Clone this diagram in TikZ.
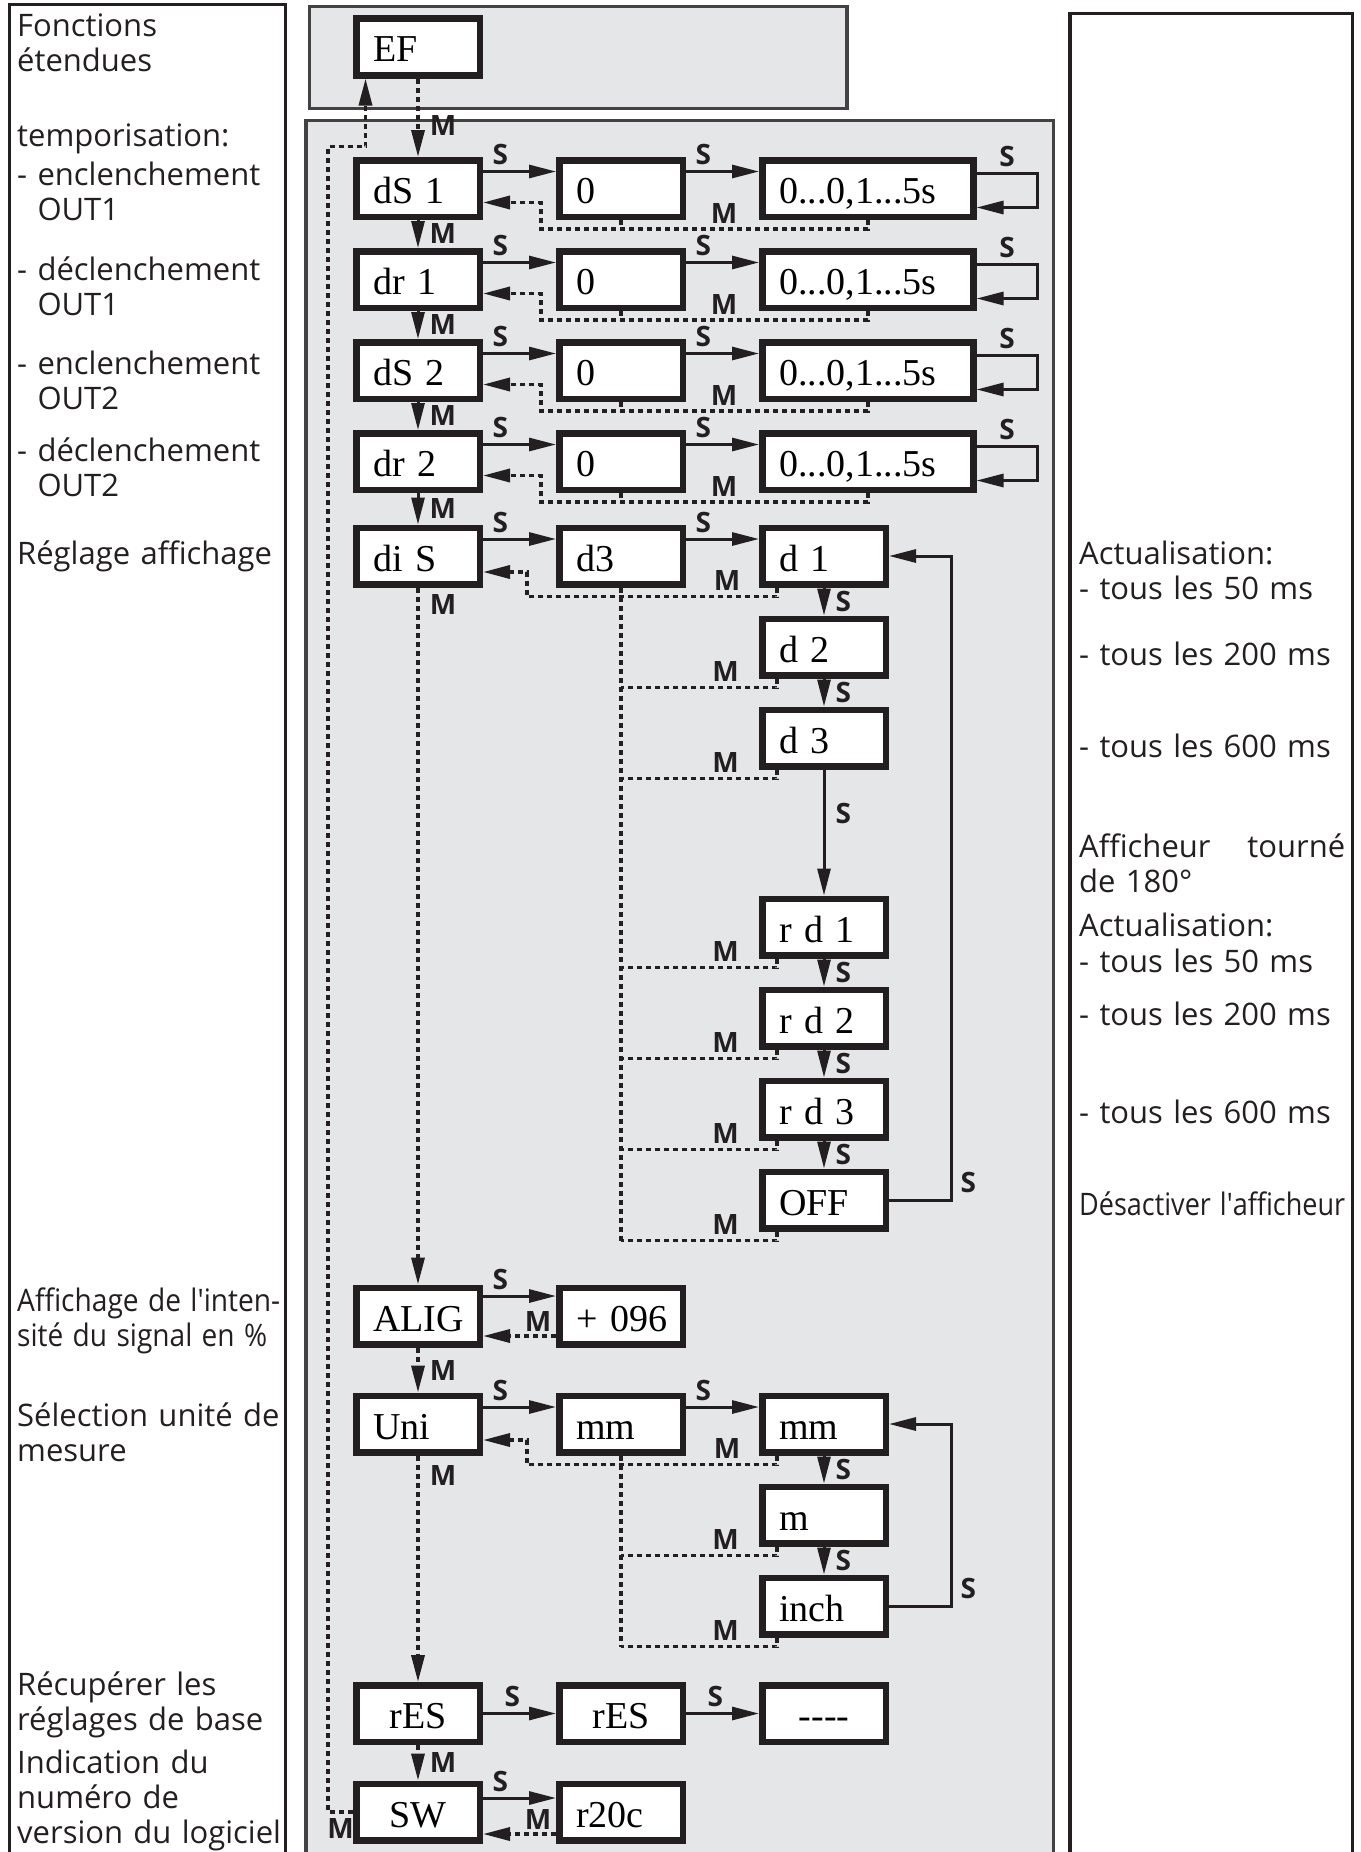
\documentclass[tikz,border=0pt]{standalone}
\usepackage{fontspec}
\setmainfont{Open Sans}
\newfontfamily\dispfamily{Liberation Serif}
\usepackage{graphicx}
\usepackage{xcolor}
\usetikzlibrary{arrows.meta,positioning}

\definecolor{panelgray}{RGB}{229,230,232}
\definecolor{ink}{RGB}{35,31,32}
\newcommand{\dispfont}{\dispfamily\fontsize{38}{40}\selectfont}
\newcommand{\notefont}{\fontsize{31}{35.3}\selectfont}
\newcommand{\lblfont}{\fontsize{28}{28}\selectfont\bfseries}

\begin{document}
\begin{tikzpicture}[
  x=1pt, y=1pt,
  node distance=28pt and 73pt,
  box/.style={draw=ink, line width=6.5pt, fill=white, minimum width=123.5pt, minimum height=56.5pt,
    text width=90pt, inner xsep=16.75pt, inner ysep=0pt, align=left,
    text height=30pt, text depth=0pt, font=\dispfont},
  wide/.style={box, minimum width=211pt, text width=177.5pt},
  cbox/.style={box, align=center},
  arrow/.style={draw=ink, line width=3pt, -{Triangle[length=27pt,width=13pt]}},
  mline/.style={draw=ink, line width=3.5pt, dash pattern=on 5pt off 4pt},
  marrow/.style={mline, -{Triangle[length=27pt,width=13pt]}},
  lbl/.style={font=\lblfont, text=ink, inner sep=0pt},
  slbl/.style={lbl, pos=0, anchor=south west, xshift=8pt, yshift=5pt},
  vlbl/.style={lbl, midway, right=10pt},
  mlbl/.style={lbl, above=4pt},
  note/.style={font=\notefont, text=ink, anchor=base west, align=left, text width=320pt, inner sep=0pt}
]
  \useasboundingbox (0,0) rectangle (1360,-1852);

  % panels
  \draw[ink, line width=3pt] (9,-1860) -- (9,-5) -- (285.5,-5) -- (285.5,-1860);
  \draw[ink, line width=3.3pt] (1070,-1860) -- (1070,-13.5) -- (1352.5,-13.5) -- (1352.5,-1860);
  \draw[ink!85, line width=3.5pt, fill=panelgray] (309.5,-6.5) rectangle (847,-108.3);
  \fill[panelgray] (306,-120.7) rectangle (1053.5,-1860);
  \draw[ink!85, line width=3.5pt] (306,-1860) -- (306,-120.7) -- (1053.5,-120.7) -- (1053.5,-1860);

  % left notes
  \node[note] (fe) at (17,-36.7) {Fonctions\\étendues};
  \node[note] (tp) at (17,-146.7) {temporisation:};
  \node[note] (on1) at (17,-185.5) {- enclenchement\\\phantom{- }OUT1};
  \node[note] (of1) at (17,-280) {- déclenchement\\\phantom{- }OUT1};
  \node[note] (on2) at (17,-374) {- enclenchement\\\phantom{- }OUT2};
  \node[note] (of2) at (17,-461.5) {- déclenchement\\\phantom{- }OUT2};
  \node[note] (ra) at (17,-564.5) {Réglage affichage};
  \node[note] (ai) at (17,-1311) {\resizebox{263pt}{\height}{Affichage de l\textquotesingle{}inten-}\\\resizebox{250pt}{\height}{sité du signal en \%}};
  \node[note] (su) at (17,-1426.5) {Sélection unité de\\mesure};
  \node[note] (rb) at (17,-1695) {Récupérer les\\réglages de base};
  \node[note] (iv) at (17,-1773) {Indication du\\numéro de\\version du logiciel};

  % right notes
  \node[note] (ac1) at (1079,-564) {Actualisation:\\- tous les 50 ms};
  \node[note] (t200a) at (1079,-665) {- tous les 200 ms};
  \node[note] (t600a) at (1079,-757.3) {- tous les 600 ms};
  \node[note] (at) at (1079,-857.3) {\makebox[266pt][l]{Afficheur\hfill tourné}\\de 180°};
  \node[note] (ac2) at (1079,-936.7) {Actualisation:\\- tous les 50 ms};
  \node[note] (t200b) at (1079,-1025) {- tous les 200 ms};
  \node[note] (t600b) at (1079,-1123.3) {- tous les 600 ms};
  \node[note] (da0) at (1079,-1215) {\resizebox{266pt}{\height}{Désactiver l\textquotesingle{}afficheur}};

  % menu boxes
  \node[box] (ef) at (418,-47) {EF};
  \node[box] (ds1) at (418,-188.5) {dS 1};
  \node[box, below=of ds1] (dr1) {dr 1};
  \node[box, below=of dr1] (ds2) {dS 2};
  \node[box, below=of ds2] (dr2) {dr 2};
  \node[box, below=31.5pt of dr2] (dis) {di S};
  \node[box] (alig) at (418,-1316) {ALIG};
  \node[box, below=45pt of alig] (uni) {Uni};
  \node[cbox] (res) at (418,-1713.5) {rES};
  \node[cbox, below=35.5pt of res] (sw) {SW};

  \node[box, right=of ds1] (nz1) {0};
  \node[wide, right=of nz1] (tim1) {0...0,1...5s};
  \node[box, right=of dr1] (nz2) {0};
  \node[wide, right=of nz2] (tim2) {0...0,1...5s};
  \node[box, right=of ds2] (nz3) {0};
  \node[wide, right=of nz3] (tim3) {0...0,1...5s};
  \node[box, right=of dr2] (nz4) {0};
  \node[wide, right=of nz4] (tim4) {0...0,1...5s};

  \node[box, right=of dis] (dd) {d3};
  \node[box, right=of dd] (da) {d 1};
  \node[box, below=of da] (db) {d 2};
  \node[box, below=of db] (dc) {d 3};
  \node[box, below=126pt of dc] (rda) {r d 1};
  \node[box, below=of rda] (rdb) {r d 2};
  \node[box, below=of rdb] (rdc) {r d 3};
  \node[box, below=of rdc] (off) {OFF};

  \node[box, right=of alig] (pct) {+~096};
  \node[box, right=of uni] (mma) {mm};
  \node[box, right=of mma] (mmb) {mm};
  \node[box, below=of mmb] (mu) {m};
  \node[box, below=of mu] (inch) {inch};
  \node[cbox, right=of res] (resb) {rES};
  \node[cbox, right=of resb] (blank) {-{}-{}-{}-};
  \node[box, right=of sw] (ver) {r20c};

  % entry and way back to EF
  \draw[marrow] (ef) -- (ds1) node[vlbl, pos=0.6] {M};
  \draw[marrow] (sw.west) -- ++(-25pt,0) node[lbl, midway, below=5pt] {M}
    |- ([xshift=12.5pt,yshift=-68pt]ef.south west) -- ([xshift=12.5pt]ef.south west);

  % delays
  \draw[arrow] ([yshift=17pt]ds1.east) -- ([yshift=17pt]nz1.west) node[slbl] {S};
  \draw[arrow] ([yshift=17pt]nz1.east) -- ([yshift=17pt]tim1.west) node[slbl] {S};
  \draw[arrow] ([yshift=15pt]tim1.east) -- ++(61pt,0) node[lbl, midway, above=5pt] {S} |- ([yshift=-19pt]tim1.east);
  \draw[mline] (nz1.south) -- ++(0,-9pt);
  \draw[marrow] (tim1.south) -- ++(0,-9pt) -| ([xshift=58pt,yshift=-14pt]ds1.east) node[mlbl, pos=0.22] {M} -- ([yshift=-14pt]ds1.east);
  \draw[arrow] (ds1) -- (dr1) node[vlbl] {M};

  \draw[arrow] ([yshift=17pt]dr1.east) -- ([yshift=17pt]nz2.west) node[slbl] {S};
  \draw[arrow] ([yshift=17pt]nz2.east) -- ([yshift=17pt]tim2.west) node[slbl] {S};
  \draw[arrow] ([yshift=15pt]tim2.east) -- ++(61pt,0) node[lbl, midway, above=5pt] {S} |- ([yshift=-19pt]tim2.east);
  \draw[mline] (nz2.south) -- ++(0,-9pt);
  \draw[marrow] (tim2.south) -- ++(0,-9pt) -| ([xshift=58pt,yshift=-14pt]dr1.east) node[mlbl, pos=0.22] {M} -- ([yshift=-14pt]dr1.east);
  \draw[arrow] (dr1) -- (ds2) node[vlbl] {M};

  \draw[arrow] ([yshift=17pt]ds2.east) -- ([yshift=17pt]nz3.west) node[slbl] {S};
  \draw[arrow] ([yshift=17pt]nz3.east) -- ([yshift=17pt]tim3.west) node[slbl] {S};
  \draw[arrow] ([yshift=15pt]tim3.east) -- ++(61pt,0) node[lbl, midway, above=5pt] {S} |- ([yshift=-19pt]tim3.east);
  \draw[mline] (nz3.south) -- ++(0,-9pt);
  \draw[marrow] (tim3.south) -- ++(0,-9pt) -| ([xshift=58pt,yshift=-14pt]ds2.east) node[mlbl, pos=0.22] {M} -- ([yshift=-14pt]ds2.east);
  \draw[arrow] (ds2) -- (dr2) node[vlbl] {M};

  \draw[arrow] ([yshift=17pt]dr2.east) -- ([yshift=17pt]nz4.west) node[slbl] {S};
  \draw[arrow] ([yshift=17pt]nz4.east) -- ([yshift=17pt]tim4.west) node[slbl] {S};
  \draw[arrow] ([yshift=15pt]tim4.east) -- ++(61pt,0) node[lbl, midway, above=5pt] {S} |- ([yshift=-19pt]tim4.east);
  \draw[mline] (nz4.south) -- ++(0,-9pt);
  \draw[marrow] (tim4.south) -- ++(0,-9pt) -| ([xshift=58pt,yshift=-14pt]dr2.east) node[mlbl, pos=0.22] {M} -- ([yshift=-14pt]dr2.east);
  \draw[arrow] (dr2) -- (dis) node[vlbl] {M};

  % display
  \draw[arrow] ([yshift=17pt]dis.east) -- ([yshift=17pt]dd.west) node[slbl] {S};
  \draw[arrow] ([yshift=17pt]dd.east) -- ([yshift=17pt]da.west) node[slbl] {S};
  \draw[arrow] (da) -- (db) node[vlbl] {S};
  \draw[arrow] (db) -- (dc) node[vlbl] {S};
  \draw[arrow] (dc) -- (rda) node[vlbl, pos=0.35] {S};
  \draw[arrow] (rda) -- (rdb) node[vlbl] {S};
  \draw[arrow] (rdb) -- (rdc) node[vlbl] {S};
  \draw[arrow] (rdc) -- (off) node[vlbl] {S};
  \draw[arrow] (off.east) -- ++(62pt,0) node[lbl, anchor=south west, xshift=8pt, yshift=6pt] {S} |- (da.east);
  \draw[marrow] ([xshift=18pt]da.south west) -- ++(0,-9pt) -| ([xshift=44pt,yshift=-16pt]dis.east) node[mlbl, pos=0.10] {M} -- ([yshift=-16pt]dis.east);
  \draw[mline] ([xshift=18pt]db.south west) -- ++(0,-9pt) coordinate (tdb) -- (tdb -| dd.south) node[mlbl, pos=0.33] {M};
  \draw[mline] ([xshift=18pt]dc.south west) -- ++(0,-9pt) coordinate (tdc) -- (tdc -| dd.south) node[mlbl, pos=0.33] {M};
  \draw[mline] ([xshift=18pt]rda.south west) -- ++(0,-9pt) coordinate (trda) -- (trda -| dd.south) node[mlbl, pos=0.33] {M};
  \draw[mline] ([xshift=18pt]rdb.south west) -- ++(0,-9pt) coordinate (trdb) -- (trdb -| dd.south) node[mlbl, pos=0.33] {M};
  \draw[mline] ([xshift=18pt]rdc.south west) -- ++(0,-9pt) coordinate (trdc) -- (trdc -| dd.south) node[mlbl, pos=0.33] {M};
  \draw[mline] ([xshift=18pt]off.south west) -- ++(0,-9pt) coordinate (toff) -- (toff -| dd.south) node[mlbl, pos=0.33] {M};
  \draw[mline] (dd.south) -- (toff -| dd.south);
  \draw[marrow] (dis) -- (alig) node[lbl, pos=0, anchor=north west, xshift=10pt, yshift=-5pt] {M};

  % signal strength
  \draw[arrow] ([yshift=20pt]alig.east) -- ([yshift=20pt]pct.west) node[slbl] {S};
  \draw[marrow] ([yshift=-20pt]pct.west) -- ([yshift=-20pt]alig.east) node[lbl, pos=0, anchor=south east, xshift=-3pt, yshift=3pt] {M};
  \draw[marrow] (alig) -- (uni) node[vlbl] {M};

  % unit
  \draw[arrow] ([yshift=17pt]uni.east) -- ([yshift=17pt]mma.west) node[slbl] {S};
  \draw[arrow] ([yshift=17pt]mma.east) -- ([yshift=17pt]mmb.west) node[slbl] {S};
  \draw[arrow] (mmb) -- (mu) node[vlbl] {S};
  \draw[arrow] (mu) -- (inch) node[vlbl] {S};
  \draw[arrow] (inch.east) -- ++(62pt,0) node[lbl, anchor=south west, xshift=8pt, yshift=6pt] {S} |- (mmb.east);
  \draw[marrow] ([xshift=18pt]mmb.south west) -- ++(0,-9pt) -| ([xshift=44pt,yshift=-16pt]uni.east) node[mlbl, pos=0.10] {M} -- ([yshift=-16pt]uni.east);
  \draw[mline] ([xshift=18pt]mu.south west) -- ++(0,-9pt) coordinate (tmu) -- (tmu -| mma.south) node[mlbl, pos=0.33] {M};
  \draw[mline] ([xshift=18pt]inch.south west) -- ++(0,-9pt) coordinate (tin) -- (tin -| mma.south) node[mlbl, pos=0.33] {M};
  \draw[mline] (mma.south) -- (tin -| mma.south);
  \draw[marrow] (uni) -- (res) node[lbl, pos=0, anchor=north west, xshift=10pt, yshift=-8pt] {M};

  % reset and software
  \draw[arrow] (res) -- (resb) node[slbl, xshift=12pt] {S};
  \draw[arrow] (resb) -- (blank) node[slbl, xshift=12pt] {S};
  \draw[marrow] (res) -- (sw) node[vlbl] {M};
  \draw[arrow] ([yshift=14pt]sw.east) -- ([yshift=14pt]ver.west) node[slbl] {S};
  \draw[marrow] ([yshift=-22pt]ver.west) -- ([yshift=-22pt]sw.east) node[lbl, pos=0, anchor=south east, xshift=-3pt, yshift=3pt] {M};
\end{tikzpicture}
\end{document}
